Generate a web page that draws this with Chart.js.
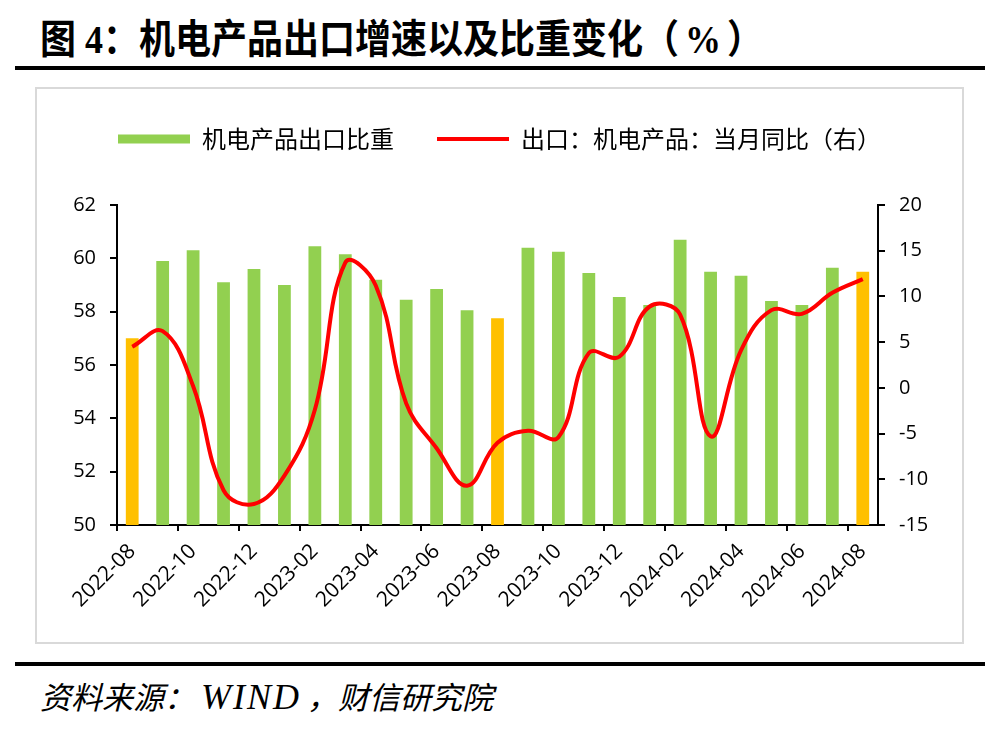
<!DOCTYPE html>
<html>
<head>
<meta charset="utf-8">
<script src="https://cdn.jsdelivr.net/npm/chart.js@4.4.1/dist/chart.umd.min.js"></script>
<style>
  body { margin: 0; background: #fff; width: 1000px; height: 729px; position: relative; overflow: hidden; }
  .title { position: absolute; left: 40px; top: 7px; font: bold 36px "Liberation Serif", "Noto Sans CJK SC", serif; color: #000; white-space: nowrap; transform: scaleY(1.1); transform-origin: left top; }
  .title span { letter-spacing: 6px; }
  .rule { position: absolute; left: 15px; width: 970px; height: 4px; background: #000; }
  .box { position: absolute; left: 35px; top: 87px; width: 929px; height: 557px; border: 2px solid #d9d9d9; box-sizing: border-box; }
  .wrap { position: absolute; left: 37px; top: 84px; width: 925px; height: 553px; }
  .source { position: absolute; left: 40px; top: 673px; font: italic 31px "Liberation Serif", "Noto Sans CJK SC", serif; color: #000; white-space: nowrap; }
  .source span { font-size: 36px; letter-spacing: 2px; margin: 0 6px; }
</style>
</head>
<body>
<div class="title">图 4：机电产品出口增速以及比重变化<span>（%）</span></div>
<div class="rule" style="top:66px"></div>
<div class="box"></div>
<div class="wrap"><canvas id="myChart" width="925" height="553"></canvas></div>
<div class="rule" style="top:662px"></div>
<div class="source">资料来源：<span>WIND</span>，财信研究院</div>

<script>
const months = [
  "2022-08", "2022-09", "2022-10", "2022-11", "2022-12",
  "2023-01", "2023-02", "2023-03", "2023-04", "2023-05", "2023-06", "2023-07", "2023-08",
  "2023-09", "2023-10", "2023-11", "2023-12",
  "2024-01", "2024-02", "2024-03", "2024-04", "2024-05", "2024-06", "2024-07", "2024-08",
];

// 机电产品出口比重 (%), left axis
const shareValues = [
  57.0, 59.9, 60.3, 59.1, 59.6,
  59.0, 60.45, 60.15, 59.2, 58.45, 58.85, 58.05, 57.75,
  60.4, 60.25, 59.45, 58.55,
  58.25, 60.7, 59.5, 59.35, 58.4, 58.25, 59.65, 59.5,
];

// 出口：机电产品：当月同比 (%), right axis
const yoyValues = [
  4.5, 6.2, 0.2, -11.2, -12.7,
  -9.6, -2.4, 13.7, 11.2, -1.7, -6.6, -10.7, -6.0,
  -4.7, -5.4, 3.8, 3.4,
  8.9, 8.0, -5.3, 4.1, 8.5, 8.1, 10.4, 11.9,
];

const leftTicks = [50, 62, 2];
const rightTicks = [-15, 20, 5];

const green = "#92D050";
const orange = "#FFC000";
const barColors = months.map((m) => (m.endsWith("-08") ? orange : green));

Chart.defaults.font.family = "'Open Sans', sans-serif";
Chart.defaults.color = "#000";

// extra room between legend and plot
const legendGap = {
  id: "legendGap",
  beforeInit(chart) {
    const fit = chart.legend.fit;
    chart.legend.fit = function () {
      fit.bind(chart.legend)();
      this.height += 44;
    };
  },
};

const ctx = document.getElementById("myChart");

new Chart(ctx, {
  type: "bar",
  data: {
    labels: months,
    datasets: [
      {
        type: "bar",
        label: "机电产品出口比重",
        data: shareValues,
        backgroundColor: barColors,
        borderWidth: 0,
        barPercentage: 0.42,
        categoryPercentage: 1,
        yAxisID: "y",
        order: 1,
      },
      {
        type: "line",
        label: "出口：机电产品：当月同比（右）",
        data: yoyValues,
        borderColor: "#FF0000",
        backgroundColor: "#FF0000",
        borderWidth: 4,
        pointRadius: 0,
        tension: 0.4,
        yAxisID: "y1",
        order: 0,
      },
    ],
  },
  options: {
    responsive: false,
    animation: false,
    layout: { padding: 0 },
    plugins: {
      tooltip: { enabled: false },
      legend: {
        position: "top",
        labels: {
          font: { family: "'Noto Sans CJK SC'", size: 24 },
          color: "#000",
          usePointStyle: true,
          pointStyleWidth: 72,
          boxHeight: 9,
          padding: 43,
          sort: (a, b) => a.datasetIndex - b.datasetIndex,
          generateLabels(chart) {
            const items = Chart.defaults.plugins.legend.labels.generateLabels(chart);
            items.forEach((it) => {
              if (it.datasetIndex === 0) {
                it.fillStyle = green;
                it.pointStyle = "rect";
                it.lineWidth = 0;
              } else {
                it.pointStyle = "line";
                it.strokeStyle = "#FF0000";
                it.lineWidth = 4;
              }
            });
            return items;
          },
        },
      },
    },
    scales: {
      x: {
        offset: true,
        grid: {
          offset: true,
          drawOnChartArea: false,
          drawTicks: true,
          tickLength: 6,
          lineWidth: 2,
          tickColor: (c) => (c.index % 2 === 0 ? "#000" : "rgba(0,0,0,0)"),
        },
        border: { display: true, color: "#000", width: 2 },
        ticks: {
          autoSkip: false,
          minRotation: 45,
          maxRotation: 45,
          padding: 8,
          font: { size: 21 },
          callback: (v, i) => (i % 2 === 0 ? months[i] : ""),
        },
        afterFit(scale) {
          scale.height = 112;
        },
      },
      y: {
        position: "left",
        min: leftTicks[0],
        max: leftTicks[1],
        ticks: { stepSize: leftTicks[2], padding: 14, font: { size: 20 } },
        grid: { drawOnChartArea: false, tickLength: 7, lineWidth: 2, tickColor: "#000" },
        border: { display: true, color: "#000", width: 2 },
        afterFit(scale) {
          scale.width = 80;
        },
      },
      y1: {
        position: "right",
        min: rightTicks[0],
        max: rightTicks[1],
        ticks: { stepSize: rightTicks[2], padding: 14, font: { size: 20 } },
        grid: { drawOnChartArea: false, tickLength: 7, lineWidth: 2, tickColor: "#000" },
        border: { display: true, color: "#000", width: 2 },
        afterFit(scale) {
          scale.width = 84;
        },
      },
    },
  },
  plugins: [legendGap],
});
</script>
</body>
</html>
